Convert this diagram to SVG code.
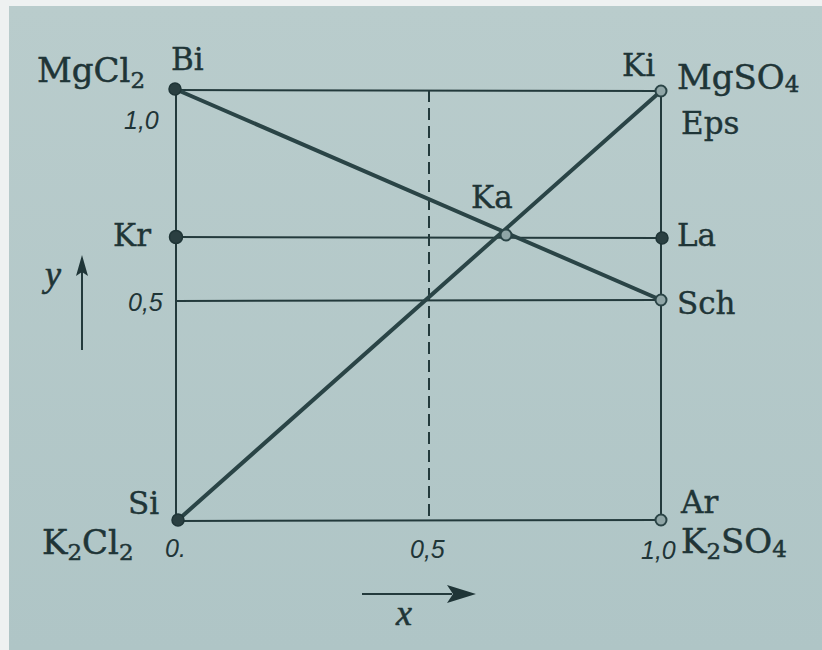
<svg xmlns="http://www.w3.org/2000/svg" width="822" height="650" viewBox="0 0 822 650">
<style>
.lbl{font-family:"DejaVu Serif","Liberation Serif",serif;fill:#1f3537;stroke:#1f3537;stroke-width:0.4;font-size:31px}
.cmp{font-family:"DejaVu Serif","Liberation Serif",serif;fill:#1f3537;stroke:#1f3537;stroke-width:0.5;font-size:34px}
.num{font-family:"Liberation Sans","Arial",sans-serif;font-style:italic;fill:#1f3537;font-size:25px}
.ax{font-family:"Liberation Serif","DejaVu Serif",serif;font-style:italic;fill:#1f3537;stroke:#1f3537;stroke-width:0.6;font-size:36px}
.thin{stroke:#233a3c;stroke-width:2;fill:none}
.thick{stroke:#2a4446;stroke-width:4;fill:none;stroke-linecap:round}
.dash{stroke:#233a3c;stroke-width:2;fill:none;stroke-dasharray:12 6}
.dot{fill:#2a3f41;stroke:#1f3537;stroke-width:1.5}
.hol{fill:#8fa5a6;stroke:#2a4446;stroke-width:2}
</style>
<defs>
<linearGradient id="paper" x1="0" y1="0" x2="0" y2="1">
<stop offset="0" stop-color="#b9cccc"/>
<stop offset="1" stop-color="#afc5c6"/>
</linearGradient>
</defs>
<rect x="0" y="0" width="822" height="650" fill="#eef1f1"/>
<rect x="9" y="6" width="813" height="644" fill="url(#paper)"/>

<g id="connectors">
<line class="thin" x1="176" y1="90" x2="661" y2="91"/>
<line class="thin" x1="176" y1="89" x2="176" y2="521"/>
<line class="thin" x1="661" y1="91" x2="661" y2="521"/>
<line class="thin" x1="176" y1="521" x2="661" y2="520"/>
<line class="dash" x1="429" y1="90" x2="429" y2="521"/>
<line class="thin" x1="176" y1="237" x2="662" y2="238"/>
<line class="thin" x1="176" y1="301" x2="661" y2="300"/>
<line class="thick" x1="175" y1="89" x2="661" y2="300"/>
<line class="thick" x1="178" y1="520" x2="661" y2="91"/>
<line class="thin" x1="82" y1="350" x2="82" y2="270"/>
<polygon points="82,255 88,276 82,272 76,276" fill="#1f3537"/>
<line class="thin" x1="362" y1="594" x2="452" y2="594"/>
<polygon points="476,594 447,585 453,594 447,603" fill="#1f3537"/>
</g>

<g id="Bi">
<circle class="dot" cx="175" cy="89" r="6"/>
<text class="lbl" x="171" y="70">Bi</text>
<text class="cmp" x="37" y="82">MgCl<tspan font-size="23" dy="6">2</tspan></text>
<text class="num" x="124" y="129">1,0</text>
</g>
<g id="Ki">
<circle class="hol" cx="661" cy="91" r="5.5"/>
<text class="lbl" x="622" y="76">Ki</text>
<text class="cmp" x="677" y="89">MgSO<tspan font-size="23" dy="3">4</tspan></text>
<text class="lbl" x="681" y="134">Eps</text>
</g>
<g id="Kr">
<circle class="dot" cx="176" cy="237" r="6.5"/>
<text class="lbl" x="113" y="246">Kr</text>
</g>
<g id="La">
<circle class="dot" cx="662" cy="238" r="6"/>
<text class="lbl" x="677" y="246">La</text>
</g>
<g id="Ka">
<circle class="hol" cx="506" cy="235" r="5.5"/>
<text class="lbl" x="471" y="208">Ka</text>
</g>
<g id="Sch">
<circle class="hol" cx="661" cy="300" r="5.5"/>
<text class="lbl" x="677" y="314">Sch</text>
</g>
<g id="Si">
<circle class="dot" cx="178" cy="520" r="6"/>
<text class="lbl" x="128" y="514">Si</text>
<text class="cmp" x="42" y="554">K<tspan font-size="23" dy="6">2</tspan><tspan dy="-6">Cl</tspan><tspan font-size="23" dy="6">2</tspan></text>
<text class="num" x="165" y="557">0.</text>
</g>
<g id="Ar">
<circle class="hol" cx="661" cy="520" r="5.5" fill="#a7bcbd"/>
<text class="lbl" x="681" y="513">Ar</text>
<text class="cmp" x="681" y="553">K<tspan font-size="23" dy="6">2</tspan><tspan dy="-6">SO</tspan><tspan font-size="23" dy="4">4</tspan></text>
<text class="num" x="641" y="559">1,0</text>
</g>
<g id="axes">
<text class="num" x="128" y="311">0,5</text>
<text class="num" x="410" y="558">0,5</text>
<text class="ax" x="45" y="286">y</text>
<text class="ax" x="396" y="625">x</text>
</g>
</svg>
